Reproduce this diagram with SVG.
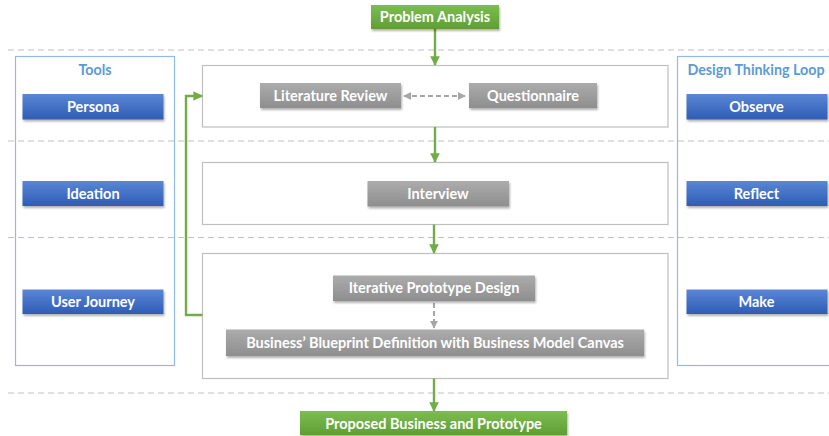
<svg xmlns="http://www.w3.org/2000/svg" width="829" height="436" viewBox="0 0 829 436">
  <defs>
    <linearGradient id="gGreen" x1="0" y1="0" x2="0" y2="1">
      <stop offset="0" stop-color="#7dbd4f"/>
      <stop offset="1" stop-color="#5f9e35"/>
    </linearGradient>
    <linearGradient id="gBlue" x1="0" y1="0" x2="0" y2="1">
      <stop offset="0" stop-color="#5a86d5"/>
      <stop offset="1" stop-color="#2e5db6"/>
    </linearGradient>
    <linearGradient id="gGray" x1="0" y1="0" x2="0" y2="1">
      <stop offset="0" stop-color="#acacac"/>
      <stop offset="1" stop-color="#8e8e8e"/>
    </linearGradient>
    <filter id="shadow" x="-10%" y="-30%" width="120%" height="170%">
      <feDropShadow dx="1" dy="2" stdDeviation="1.2" flood-color="#000" flood-opacity="0.3"/>
    </filter>
    <marker id="arrGreen" viewBox="0 0 10 10" refX="9" refY="5" markerWidth="4" markerHeight="4" orient="auto">
      <path d="M0,0 L10,5 L0,10 z" fill="#70ad47"/>
    </marker>
    <marker id="arrGray" viewBox="0 0 10 10" refX="9" refY="5" markerWidth="4" markerHeight="4" orient="auto-start-reverse">
      <path d="M0,0 L10,5 L0,10 z" fill="#a6a6a6"/>
    </marker>
    <style>
      .lbl { font-family: Lato, "Liberation Sans", sans-serif; font-weight: bold; font-size: 14.5px; fill: #ffffff; text-anchor: middle; }
      .title { font-family: Lato, "Liberation Sans", sans-serif; font-weight: bold; font-size: 14.3px; fill: #5b9bd5; text-anchor: middle; }
      .sep { stroke: #c0c0c0; stroke-width: 1; stroke-dasharray: 6 4; fill: none; }
      .stage { fill: #ffffff; stroke: #bfbfbf; stroke-width: 1.2; }
      .side { fill: none; stroke: #8fbbe6; stroke-width: 1.2; }
      .green { fill: url(#gGreen); filter: url(#shadow); }
      .blue { fill: url(#gBlue); filter: url(#shadow); }
      .gray { fill: url(#gGray); filter: url(#shadow); }
      .flow { stroke: #70ad47; stroke-width: 2.4; fill: none; marker-end: url(#arrGreen); }
      .dash { stroke: #a6a6a6; stroke-width: 2; stroke-dasharray: 5 3; fill: none; }
    </style>
  </defs>

  <rect width="829" height="436" fill="#ffffff"/>

  <!-- phase separators -->
  <g id="separators">
    <line class="sep" x1="8" y1="50" x2="829" y2="50"/>
    <line class="sep" x1="8" y1="141" x2="829" y2="141"/>
    <line class="sep" x1="8" y1="237.5" x2="829" y2="237.5"/>
    <line class="sep" x1="8" y1="393" x2="829" y2="393"/>
  </g>

  <!-- side columns -->
  <g id="tools">
    <rect class="side" x="15.5" y="56.5" width="159" height="309"/>
    <text class="title" x="95" y="74.5">Tools</text>
  </g>
  <g id="design-thinking-loop">
    <rect class="side" x="677.5" y="56.5" width="160" height="309"/>
    <text class="title" x="756" y="74.5">Design Thinking Loop</text>
  </g>

  <!-- stage frames -->
  <g id="stage-1"><rect class="stage" x="202.5" y="65.5" width="465.5" height="61.5"/></g>
  <g id="stage-2"><rect class="stage" x="202.5" y="162.5" width="465.5" height="62"/></g>
  <g id="stage-3"><rect class="stage" x="202.5" y="253.5" width="465.5" height="125"/></g>

  <!-- connectors -->
  <g id="connectors">
    <line class="flow" x1="435" y1="29" x2="435" y2="65"/>
    <line class="flow" x1="435" y1="127" x2="435" y2="162"/>
    <line class="flow" x1="434" y1="224.5" x2="434" y2="253"/>
    <line class="flow" x1="434" y1="378.5" x2="434" y2="411"/>
    <polyline class="flow" points="202.5,315 186,315 186,96 202,96"/>
    <line class="dash" x1="404" y1="96" x2="465" y2="96" marker-start="url(#arrGray)" marker-end="url(#arrGray)"/>
    <line class="dash" x1="434" y1="303" x2="434" y2="328" marker-end="url(#arrGray)"/>
  </g>

  <!-- start / end -->
  <g id="problem-analysis">
    <rect class="green" x="371" y="5" width="128" height="24"/>
    <text class="lbl" x="435" y="22">Problem Analysis</text>
  </g>
  <g id="proposed-business">
    <rect class="green" x="300" y="411" width="267" height="24"/>
    <text class="lbl" x="433.5" y="428.5">Proposed Business and Prototype</text>
  </g>

  <!-- research steps -->
  <g id="literature-review">
    <rect class="gray" x="260" y="83" width="141" height="25"/>
    <text class="lbl" x="330.5" y="100.5">Literature Review</text>
  </g>
  <g id="questionnaire">
    <rect class="gray" x="469" y="83" width="128" height="25"/>
    <text class="lbl" x="533" y="100.5">Questionnaire</text>
  </g>
  <g id="interview">
    <rect class="gray" x="367.5" y="181" width="141.5" height="25.5"/>
    <text class="lbl" x="438" y="198.5">Interview</text>
  </g>
  <g id="iterative-prototype">
    <rect class="gray" x="333" y="275.5" width="202" height="25.5"/>
    <text class="lbl" x="434" y="293">Iterative Prototype Design</text>
  </g>
  <g id="business-blueprint">
    <rect class="gray" x="226" y="329.5" width="418" height="26.5"/>
    <text class="lbl" x="435" y="347.5">Business’ Blueprint Definition with Business Model Canvas</text>
  </g>

  <!-- tool items -->
  <g id="persona">
    <rect class="blue" x="22.5" y="94" width="141" height="25.5"/>
    <text class="lbl" x="93" y="111.5">Persona</text>
  </g>
  <g id="ideation">
    <rect class="blue" x="22.5" y="181" width="141" height="25"/>
    <text class="lbl" x="93" y="198.5">Ideation</text>
  </g>
  <g id="user-journey">
    <rect class="blue" x="22.5" y="289.5" width="141" height="24.5"/>
    <text class="lbl" x="93" y="306.5">User Journey</text>
  </g>

  <!-- loop items -->
  <g id="observe">
    <rect class="blue" x="686.5" y="94" width="141" height="25.5"/>
    <text class="lbl" x="756.5" y="111.5">Observe</text>
  </g>
  <g id="reflect">
    <rect class="blue" x="686.5" y="181" width="141" height="25"/>
    <text class="lbl" x="756.5" y="198.5">Reflect</text>
  </g>
  <g id="make">
    <rect class="blue" x="686.5" y="289.5" width="141" height="24.5"/>
    <text class="lbl" x="756.5" y="306.5">Make</text>
  </g>
</svg>
